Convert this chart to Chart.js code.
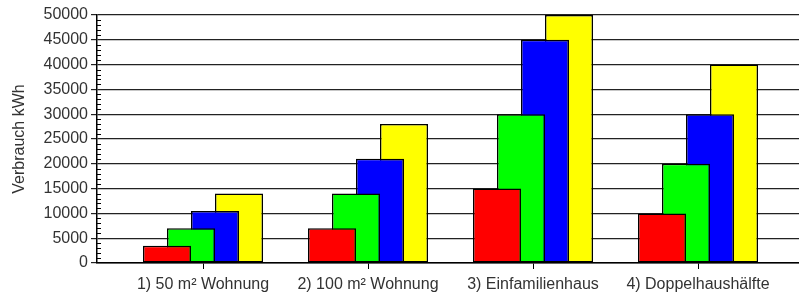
<!DOCTYPE html>
<html>
<head>
<meta charset="utf-8">
<script src="https://cdn.jsdelivr.net/npm/chart.js@4/dist/chart.umd.min.js"></script>
<style>
  html, body { margin: 0; padding: 0; background: #fff; }
  #wrap { width: 799px; height: 294px; }
</style>
</head>
<body>
<div id="wrap"><canvas id="chart"></canvas></div>
<script>
// categories and series (kWh)
const categories = ['1) 50 m\u00b2 Wohnung', '2) 100 m\u00b2 Wohnung', '3) Einfamilienhaus', '4) Doppelhaush\u00e4lfte'];
const redValues = [3500, 7000, 15000, 10000];
const greenValues = [7000, 14000, 30000, 20000];
const blueValues = [10500, 21000, 45000, 30000];
const yellowValues = [14000, 28000, 50000, 40000];
const yTicks = [0, 5000, 10000, 15000, 20000, 25000, 30000, 35000, 40000, 45000, 50000];

const seriesColors = ['#ff0000', '#00ff00', '#0000ff', '#ffff00'];
const allSeries = [redValues, greenValues, blueValues, yellowValues];

Chart.defaults.font.family = '"Liberation Sans", Arial, sans-serif';
Chart.defaults.font.size = 16;
Chart.defaults.color = '#333';

// small minor ticks on the inner side of the y axis
const minorTicks = {
    id: 'minorTicks',
    afterDraw(chart) {
        const y = chart.scales.y;
        const ctx = chart.ctx;
        const x0 = chart.chartArea.left;
        ctx.save();
        ctx.strokeStyle = '#000';
        ctx.lineWidth = 1;
        for (let v = 1000; v < 50000; v += 1000) {
            if (v % 5000 === 0) continue;
            const py = Math.round(y.getPixelForValue(v)) + 0.5;
            ctx.beginPath();
            ctx.moveTo(x0, py);
            ctx.lineTo(x0 + 4, py);
            ctx.stroke();
        }
        ctx.restore();
    }
};

// bars overlap by half a bar; the first dataset ends up on top (staircase look)
new Chart(document.getElementById('chart'), {
    type: 'bar',
    data: {
        datasets: allSeries.map((vals, i) => ({
            data: vals.map((v, j) => ({ x: j, y: v })),
            backgroundColor: seriesColors[i],
            borderColor: '#000',
            borderWidth: 1.5,
            borderSkipped: false,
            categoryPercentage: 96 / 165,
            barPercentage: 2
        }))
    },
    options: {
        responsive: true,
        maintainAspectRatio: false,
        animation: false,
        layout: { padding: { top: 15, right: 0, bottom: 0, left: 0 } },
        plugins: {
            legend: { display: false },
            tooltip: { enabled: false }
        },
        scales: {
            x: {
                type: 'linear',
                offset: false,
                min: -106 / 165,
                max: -106 / 165 + 702 / 165,
                afterBuildTicks: s => { s.ticks = categories.map((c, i) => ({ value: i })); },
                afterFit: s => { s.height = 31; },
                grid: { offset: false, drawOnChartArea: false, color: '#000', tickLength: 6 },
                border: { display: true, color: '#000', width: 1.5 },
                ticks: {
                    padding: 6,
                    maxRotation: 0,
                    autoSkip: false,
                    callback: v => categories[v]
                }
            },
            y: {
                min: 0,
                max: 50000,
                afterBuildTicks: s => { s.ticks = yTicks.map(v => ({ value: v })); },
                afterFit: s => { s.width = 97; },
                grid: { color: '#222', lineWidth: 1.2, tickLength: 6 },
                border: { display: true, color: '#000', width: 1.5 },
                ticks: { padding: 3, callback: v => String(v) },
                title: {
                    display: true,
                    text: 'Verbrauch kWh',
                    padding: { top: 10, bottom: 0 },
                    font: { size: 16 }
                }
            }
        }
    },
    plugins: [minorTicks]
});
</script>
</body>
</html>
